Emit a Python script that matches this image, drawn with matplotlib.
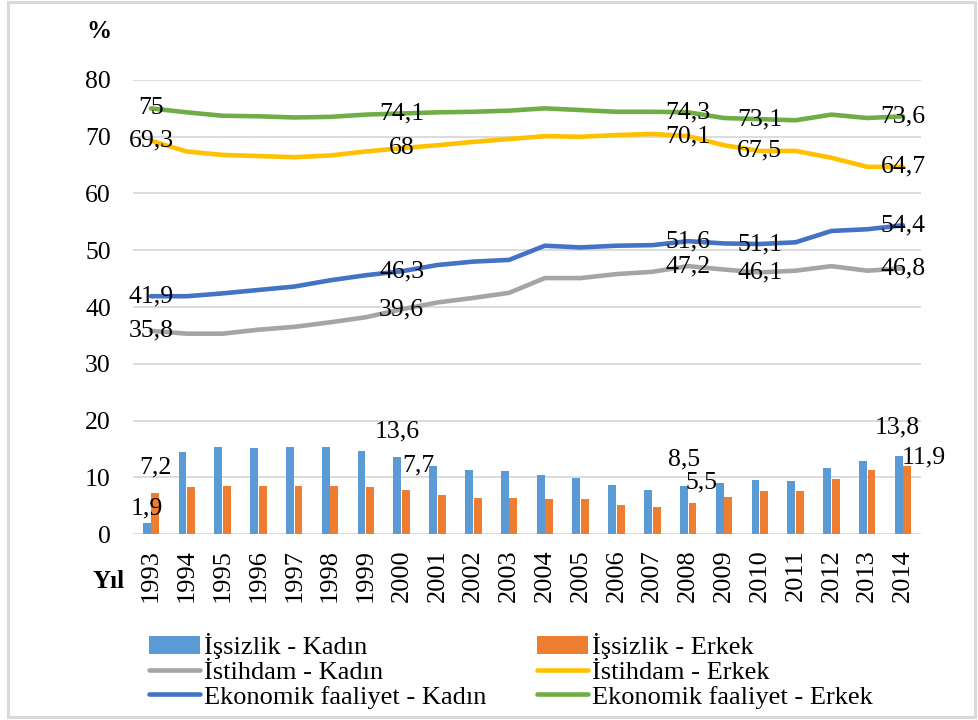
"""
Türkiye: işsizlik, istihdam ve ekonomik faaliyet oranları, 1993-2014
"""

import matplotlib
matplotlib.use('Agg')
import numpy as np
from matplotlib import pyplot as plt
from matplotlib.patches import Rectangle

years = list(range(1993, 2015))

issizlik_kadin = [1.9, 14.5, 15.4, 15.2, 15.4, 15.4, 14.7, 13.6, 12.0, 11.3, 11.1,
                  10.4, 9.9, 8.6, 7.7, 8.5, 9.0, 9.5, 9.3, 11.7, 12.9, 13.8]
issizlik_erkek = [7.2, 8.2, 8.4, 8.4, 8.4, 8.4, 8.2, 7.7, 6.8, 6.3, 6.3,
                  6.1, 6.1, 5.2, 4.8, 5.5, 6.6, 7.5, 7.5, 9.7, 11.3, 11.9]
istihdam_kadin = [35.8, 35.3, 35.3, 36.0, 36.5, 37.3, 38.2, 39.6, 40.8, 41.6, 42.5,
                  45.1, 45.1, 45.8, 46.2, 47.2, 46.6, 46.1, 46.4, 47.2, 46.4, 46.8]
istihdam_erkek = [69.3, 67.4, 66.8, 66.6, 66.4, 66.7, 67.4, 68.0, 68.5, 69.1, 69.6,
                  70.1, 70.0, 70.3, 70.5, 70.1, 68.5, 67.5, 67.5, 66.3, 64.7, 64.7]
ekonomik_kadin = [41.9, 41.9, 42.4, 43.0, 43.6, 44.7, 45.6, 46.3, 47.4, 48.0, 48.3,
                  50.8, 50.5, 50.8, 50.9, 51.6, 51.2, 51.1, 51.4, 53.4, 53.7, 54.4]
ekonomik_erkek = [75.0, 74.3, 73.7, 73.6, 73.4, 73.5, 73.9, 74.1, 74.3, 74.4, 74.6,
                  75.0, 74.7, 74.4, 74.4, 74.3, 73.3, 73.1, 72.9, 73.9, 73.3, 73.6]

# years that carry a value label
line_label_years = [1993, 2000, 2008, 2010, 2014]
bar_label_years = [1993, 2000, 2008, 2014]

plt.rcParams['font.family'] = ['Liberation Serif', 'DejaVu Serif']

fig = plt.figure(figsize=(9.79, 7.2), dpi=100)
ax = fig.add_axes([0.1359, 0.2583, 0.8048, 0.6306])

x = np.arange(len(years))
w = 0.22
off = 0.12

b1 = ax.bar(x - off, issizlik_kadin, w, color='#5B9BD5', label='İşsizlik - Kadın', zorder=2)
b2 = ax.bar(x + off, issizlik_erkek, w, color='#ED7D31', label='İşsizlik - Erkek', zorder=2)

lines = [(istihdam_kadin, '#A5A5A5', 'İstihdam - Kadın'),
         (istihdam_erkek, '#FFC000', 'İstihdam - Erkek'),
         (ekonomik_kadin, '#4472C4', 'Ekonomik faaliyet - Kadın'),
         (ekonomik_erkek, '#70AD47', 'Ekonomik faaliyet - Erkek')]
lh = []
for vals, col, lab in lines:
    l, = ax.plot(x, vals, color=col, lw=3.3, label=lab, zorder=3,
                 solid_capstyle='round', solid_joinstyle='round')
    lh.append(l)
    for yr in line_label_years:
        i = years.index(yr)
        ax.text(x[i], vals[i], '{:g}'.format(vals[i]).replace('.', ','),
                ha='center', va='center', fontsize=18.5, zorder=4)

# bar labels: (dx, dy) in pixels of the label centre above the bar top
bar_off = {('k', 1993): (0, 15), ('e', 1993): (0, 26),
           ('k', 2000): (0, 25), ('e', 2000): (12, 25),
           ('k', 2008): (0, 26), ('e', 2008): (9, 20),
           ('k', 2014): (-2, 28), ('e', 2014): (16, 9)}
for key, vals, sgn in [('k', issizlik_kadin, -1), ('e', issizlik_erkek, 1)]:
    for yr in bar_label_years:
        i = years.index(yr)
        dx, dy = bar_off[(key, yr)]
        ax.annotate('{:g}'.format(vals[i]).replace('.', ','),
                    (x[i] + sgn * off, vals[i]), xytext=(dx * 0.72, dy * 0.72),
                    textcoords='offset points', ha='center', va='center',
                    fontsize=18.5, zorder=4)

ax.set_xlim(-0.5, len(years) - 0.5)
ax.set_ylim(0, 80)
ax.set_yticks(range(0, 90, 10))
ax.set_xticks(x)
ax.set_xticklabels([str(y) for y in years], rotation=90)
ax.tick_params(axis='x', length=0, pad=11, labelsize=19)
ax.tick_params(axis='y', length=0, pad=16, labelsize=18.5)
ax.grid(axis='y', color='#D9D9D9', lw=1.3, zorder=0)
ax.set_axisbelow(True)
for s in ax.spines.values():
    s.set_visible(False)

fig.text(99 / 979, 1 - 32 / 720, '%', fontsize=18, fontweight='bold',
         ha='center', va='center')
fig.text(109 / 979, 1 - 582 / 720, 'Yıl', fontsize=18, fontweight='bold',
         ha='center', va='center')

handles = [b1, lh[0], lh[2], b2, lh[1], lh[3]]
fig.legend(handles, [h.get_label() for h in handles], ncol=2, frameon=False,
           loc='upper left', bbox_to_anchor=(149 / 979, 1 - 633 / 720),
           fontsize=19, handlelength=1.95, handletextpad=0.15,
           columnspacing=1.9, labelspacing=0.05, borderpad=0, borderaxespad=0)

fig.patches.append(Rectangle((8 / 979, 3 / 720), 967 / 979, 715 / 720,
                             transform=fig.transFigure, fill=False,
                             edgecolor='#D9D9D9', lw=2.2))

fig.savefig('out.png', dpi=100)
